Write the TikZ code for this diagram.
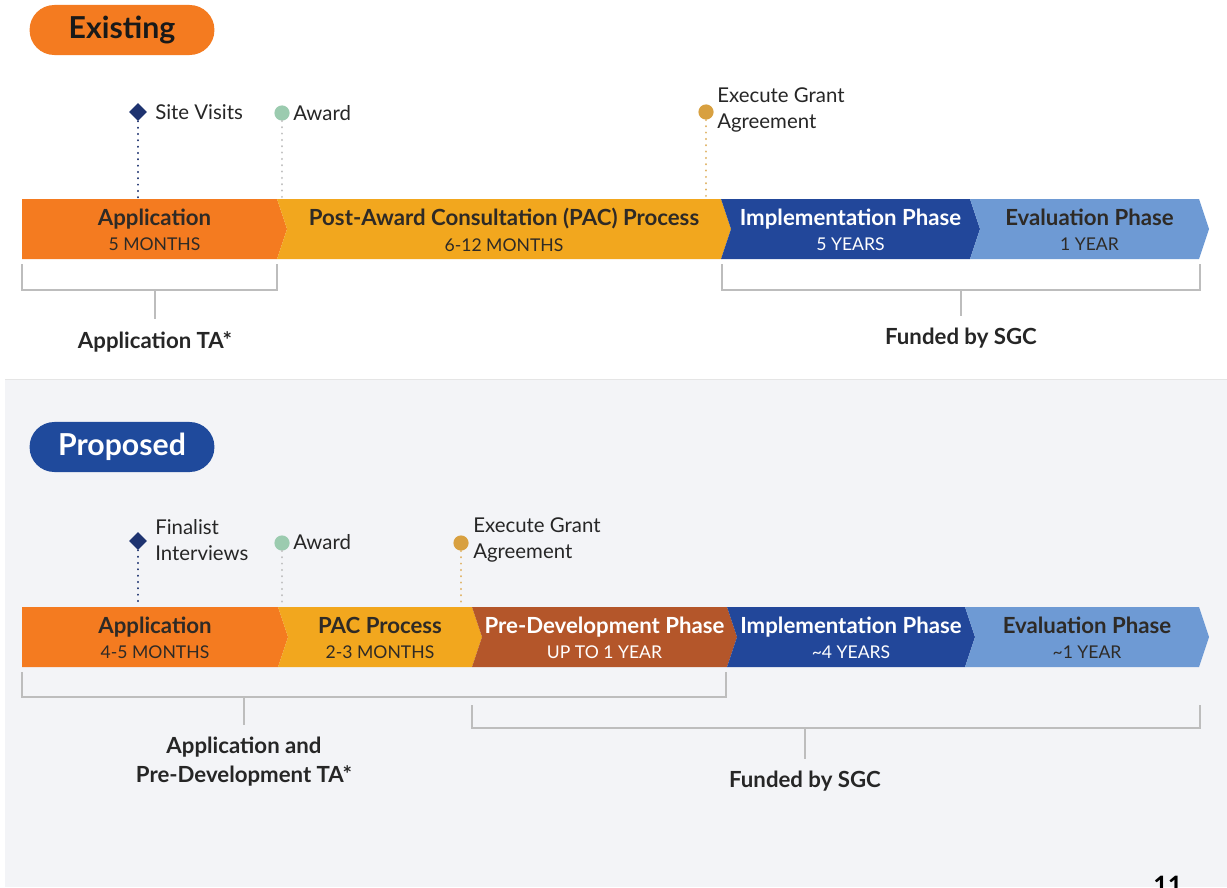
\documentclass[tikz,border=0pt]{standalone}
\usepackage{fontspec}
\setmainfont{Lato}
\usepackage{tikz}
\usetikzlibrary{positioning}
\usetikzlibrary{shapes.geometric}

\definecolor{appOrange}{HTML}{F47B20}
\definecolor{pacGold}{HTML}{F2A71E}
\definecolor{devBrown}{HTML}{B4562A}
\definecolor{implNavy}{HTML}{22479A}
\definecolor{evalBlue}{HTML}{6E9AD4}
\definecolor{pillNavy}{HTML}{1F4A9C}
\definecolor{mkNavy}{HTML}{1E3370}
\definecolor{mkGreen}{HTML}{9BCBAF}
\definecolor{mkTan}{HTML}{D8A040}
\definecolor{barText}{HTML}{2E2A26}
\definecolor{brkGrey}{HTML}{BDBDBD}
\definecolor{panelBg}{HTML}{F3F4F7}

% one chevron of the time bar: name, left x, right x, top y, colour, notch, text colour, title, span
\newcommand{\phaseseg}[9]{%
  \fill[#5] (#2,#4) -- (#3,#4) -- ({#3+10},{#4+30}) -- (#3,{#4+60})
     -- (#2,{#4+60}) -- ({#2+#6},{#4+30}) -- cycle;
  \node[phase, text=#7] (#1) at ({(#2+#3)/2+5},{#4+31})
     {\bfseries #8\\[0pt]{\spanfont #9}};
}

\tikzset{
  phase/.style={align=center, inner sep=0pt,
    font=\fontsize{15.8}{18}\selectfont},
  pill/.style={rounded corners=0.62cm, minimum width=4.62cm,
    minimum height=1.25cm, inner sep=0pt,
    font=\bfseries\fontsize{21.5}{24}\selectfont},
  mkdiamond/.style={diamond, fill=mkNavy, inner sep=0pt, minimum size=0.45cm},
  mkdot/.style={circle, inner sep=0pt, minimum size=0.38cm},
  mklabel/.style={anchor=west, align=left, inner sep=0pt,
    font=\fontsize{14.5}{18.4}\selectfont, text=black!85},
  stem/.style={line width=1.5pt, line cap=round, dash pattern=on 0.1pt off 4.4pt},
  brk/.style={draw=brkGrey, line width=0.9pt},
  brklabel/.style={align=center, inner sep=0pt,
    font=\bfseries\fontsize{15.8}{20.5}\selectfont, text=black!85},
}
\newcommand{\spanfont}{\mdseries\fontsize{12.5}{15}\selectfont}

\begin{document}
\begin{tikzpicture}[x=0.025cm, y=-0.025cm]

	\clip (0,0) rectangle (1227,887);
	\fill[white] (0,0) rectangle (1227,887);

	% lower panel
	\fill[panelBg] (5,380) rectangle (1227,887);
	\draw[black!10, line width=0.6pt] (5,379.5) -- (1227,379.5);

	%%%%%%%%%%%%%%%%%%%%%%%%%%%%%%%%%%%%%%%%%%%%%%%%%%%%%%%%%
	% EXISTING
	%%%%%%%%%%%%%%%%%%%%%%%%%%%%%%%%%%%%%%%%%%%%%%%%%%%%%%%%%

	\node[pill, fill=appOrange, text=black!90] (existing) at (122,30) {Existing};

	% time bar, left to right
	\phaseseg{eApp}{22}{277}{199}{appOrange}{0}{barText}{Application}{5 MONTHS}
	\phaseseg{ePac}{277}{721}{199}{pacGold}{10}{barText}{Post-Award Consultation (PAC) Process}{6-12 MONTHS}
	\phaseseg{eImpl}{721}{970}{199}{implNavy}{10}{white}{Implementation Phase}{5 YEARS}
	\phaseseg{eEval}{970}{1199}{199}{evalBlue}{10}{barText}{Evaluation Phase}{1 YEAR}

	% milestones above the bar
	\node[mkdiamond] (eSite) at (138,112) {};
	\node[mklabel] (eSiteTxt) at (155,112) {Site Visits};
	\node[mkdot, fill=mkGreen] (eAward) at (282,113) {};
	\node[mklabel] (eAwardTxt) at (293,113) {Award};
	\node[mkdot, fill=mkTan] (eExec) at (706,112) {};
	\node[mklabel] (eExecTxt) at (717,110) {Execute Grant\\Agreement};

	\coordinate (eSiteBar) at (138,198);
	\coordinate (eAwardBar) at (282,198);
	\coordinate (eExecBar) at (706,198);
	\draw[stem, mkNavy] (eSite.south) -- (eSiteBar);
	\draw[stem, black!25] (eAward.south) -- (eAwardBar);
	\draw[stem, mkTan!80] (eExec.south) -- (eExecBar);

	% brackets below the bar
	\coordinate (eTaL) at (22,264);
	\coordinate (eTaR) at (277,264);
	\coordinate (eTaM) at (155,290);
	\node[brklabel] (eTaTxt) at (155,342) {Application TA*};
	\draw[brk] (eTaL) -- (eTaL |- eTaM) -- (eTaR |- eTaM) -- (eTaR);
	\draw[brk] (eTaM) -- ([yshift=0.3cm]eTaTxt.north);

	\coordinate (eFundL) at (722,264);
	\coordinate (eFundR) at (1200,264);
	\coordinate (eFundM) at (961,290);
	\node[brklabel] (eFundTxt) at (961,338) {Funded by SGC};
	\draw[brk] (eFundL) -- (eFundL |- eFundM) -- (eFundR |- eFundM) -- (eFundR);
	\draw[brk] (eFundM) -- ([yshift=0.3cm]eFundTxt.north);

	%%%%%%%%%%%%%%%%%%%%%%%%%%%%%%%%%%%%%%%%%%%%%%%%%%%%%%%%%
	% PROPOSED
	%%%%%%%%%%%%%%%%%%%%%%%%%%%%%%%%%%%%%%%%%%%%%%%%%%%%%%%%%

	\node[pill, fill=pillNavy, text=white] (proposed) at (122,447) {Proposed};

	\phaseseg{pApp}{22}{278}{607}{appOrange}{0}{barText}{Application}{4-5 MONTHS}
	\phaseseg{pPac}{278}{472}{607}{pacGold}{10}{barText}{PAC Process}{2-3 MONTHS}
	\phaseseg{pDev}{472}{727}{607}{devBrown}{10}{white}{Pre-Development Phase}{UP TO 1 YEAR}
	\phaseseg{pImpl}{727}{965}{607}{implNavy}{10}{white}{Implementation Phase}{\textasciitilde 4 YEARS}
	\phaseseg{pEval}{965}{1199}{607}{evalBlue}{10}{barText}{Evaluation Phase}{\textasciitilde 1 YEAR}

	\node[mkdiamond] (pFinal) at (138,541) {};
	\node[mklabel] (pFinalTxt) at (155,540) {Finalist\\Interviews};
	\node[mkdot, fill=mkGreen] (pAward) at (282,543) {};
	\node[mklabel] (pAwardTxt) at (293,542) {Award};
	\node[mkdot, fill=mkTan] (pExec) at (461,543) {};
	\node[mklabel] (pExecTxt) at (473,540) {Execute Grant\\Agreement};

	\coordinate (pFinalBar) at (138,606);
	\coordinate (pAwardBar) at (282,606);
	\coordinate (pExecBar) at (461,606);
	\draw[stem, mkNavy] (pFinal.south) -- (pFinalBar);
	\draw[stem, black!25] (pAward.south) -- (pAwardBar);
	\draw[stem, mkTan!80] (pExec.south) -- (pExecBar);

	\coordinate (pTaL) at (22,672);
	\coordinate (pTaR) at (726,672);
	\coordinate (pTaM) at (244,697);
	\node[brklabel] (pTaTxt) at (244,762) {Application and\\Pre-Development TA*};
	\draw[brk] (pTaL) -- (pTaL |- pTaM) -- (pTaR |- pTaM) -- (pTaR);
	\draw[brk] (pTaM) -- ([yshift=0.3cm]pTaTxt.north);

	\coordinate (pFundL) at (472,705);
	\coordinate (pFundR) at (1200,705);
	\coordinate (pFundM) at (805,728);
	\node[brklabel] (pFundTxt) at (805,781) {Funded by SGC};
	\draw[brk] (pFundL) -- (pFundL |- pFundM) -- (pFundR |- pFundM) -- (pFundR);
	\draw[brk] (pFundM) -- ([yshift=0.3cm]pFundTxt.north);

	% page number, cut by the lower edge
	\node[anchor=north west, inner sep=0pt, font=\bfseries\fontsize{18}{20}\selectfont]
	  (pageNo) at (1153,876) {11};

\end{tikzpicture}
\end{document}
